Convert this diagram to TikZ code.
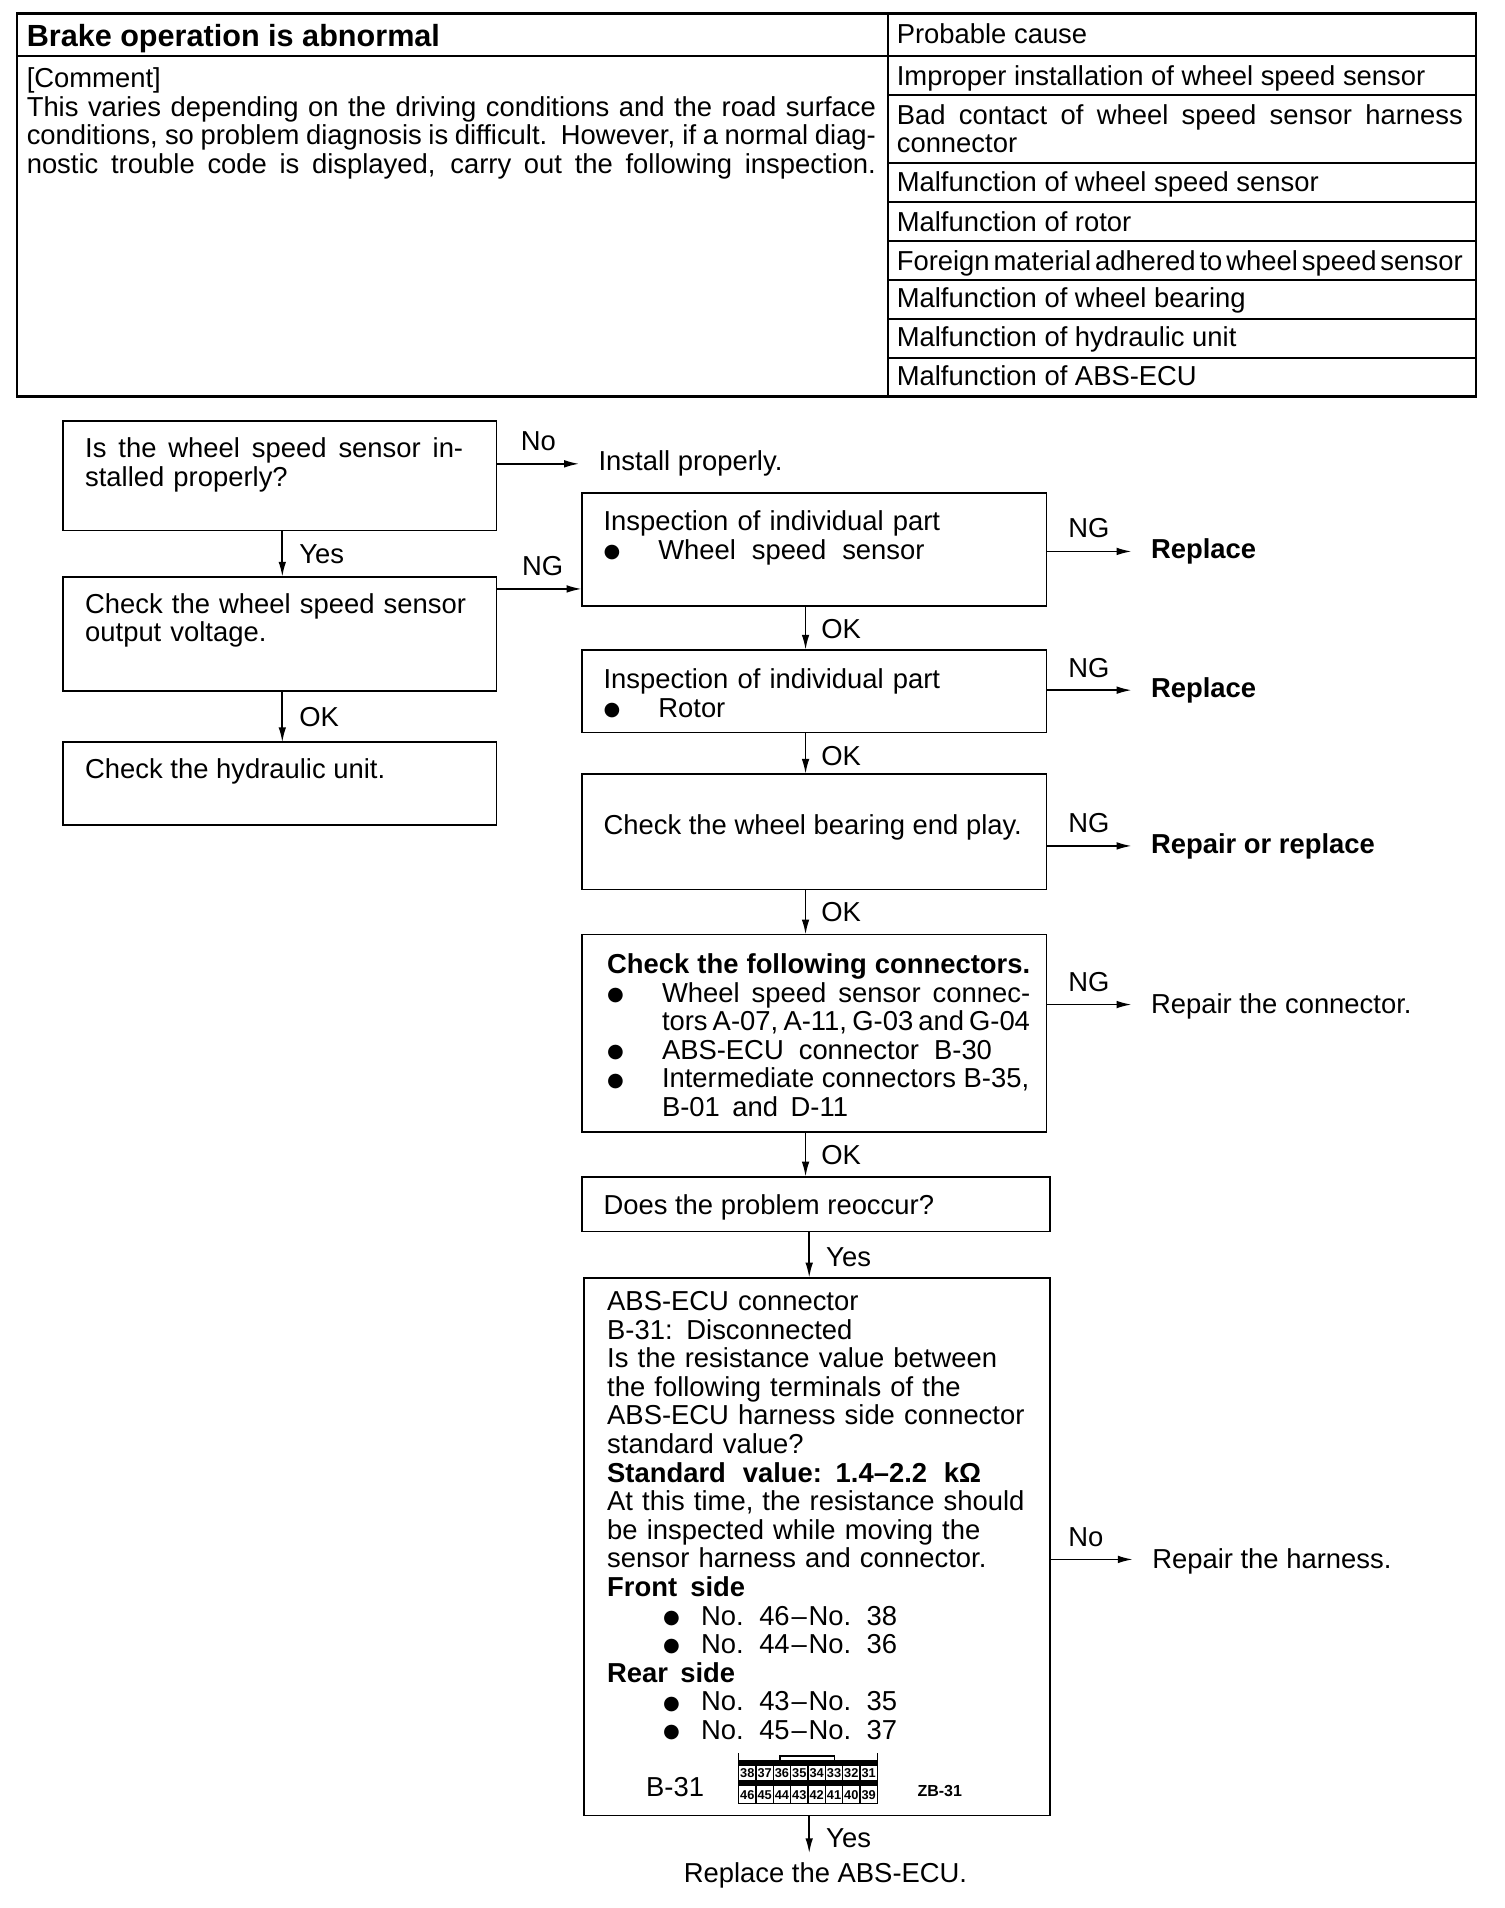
\documentclass[tikz,border=0pt]{standalone}
\usepackage{fontspec}
\setmainfont{Liberation Sans}
\newfontfamily\symf{DejaVu Sans}
\usetikzlibrary{arrows.meta}
\newcommand\bu{\raisebox{0.9pt}{\symf\fontsize{9.6}{9.6}\selectfont ●}}
\newcommand\J[2]{\makebox[#1pt][s]{\spaceskip=0.14em plus 1em\relax #2}}
\newcommand\NN[2]{\hspace*{28pt}\makebox[19pt][l]{\bu}No.\kern7.7pt #1\kern.9pt–\kern.9pt No.\kern7.7pt #2}
\newcommand\bx[5]{\node[boxst,minimum width={(#4-#2)*0.6084pt},minimum height={(#5-#3)*0.6084pt}] (#1) at ({(#2+#4)/2},{(#3+#5)/2}) {};}
\newcommand\T[4]{\node[txt] (#1) at (#2,#3) {#4};}
\newcommand\TG[4]{\node[txt,inner xsep=9.7pt] (#1) at (#2-16,#3) {#4};}
\newcommand\B[5]{\node[txt,text width=#4pt,align=left] (#1) at (#2,#3) {#5};}
\tikzset{
  boxst/.style={draw=black,line width=0.9pt,inner sep=0pt,outer sep=0pt},
  txt/.style={anchor=base west,inner sep=0pt,outer sep=0pt,font=\fontsize{13.7}{14.3}\selectfont,text=black},
  rule/.style={line width=0.85pt},
  arr/.style={line width=0.85pt,-{Latex[length=7.5pt,width=3.8pt]}},
}
\begin{document}
\begin{tikzpicture}[x=0.6084pt,y=-0.6084pt]
\useasboundingbox (0,0) rectangle (1236,1568);
\fill[white] (0,0) rectangle (1236,1568);
% header table
\node[draw=black,line width=1.3pt,inner sep=0pt,outer sep=0pt,minimum width={1199*0.6084pt},minimum height={315*0.6084pt}] (tbl) at (613.5,168.5) {};
\draw[rule] (730,11) -- (730,326);
\draw[rule] (14,46) -- (1213,46);
\foreach \yy in {78,134,166,198,230,262,294} \draw[rule] (730,\yy) -- (1213,\yy);
\T{title}{22}{38}{\fontsize{15.3}{16}\selectfont\bfseries Brake operation is abnormal}
\B{comment}{22}{72}{430}{[Comment]\\
\J{424.6}{This varies depending on the driving conditions and the road surface}\\
\J{424.6}{conditions, so problem diagnosis is difficult. However, if a normal diag-}\\
\J{424.6}{nostic trouble code is displayed, carry out the following inspection.}}
\T{cause}{737}{36}{Probable cause}
\T{c1}{737}{70}{Improper installation of wheel speed sensor}
\B{c2}{737}{102}{290}{\J{283}{Bad contact of wheel speed sensor harness}\\connector}
\T{c3}{737}{157}{Malfunction of wheel speed sensor}
\T{c4}{737}{190}{Malfunction of rotor}
\T{c5}{737}{222}{\J{283}{Foreign material adhered to wheel speed sensor}}
\T{c6}{737}{253}{Malfunction of wheel bearing}
\T{c7}{737}{285}{Malfunction of hydraulic unit}
\T{c8}{737}{317}{Malfunction of ABS-ECU}
% boxes
\bx{a1}{52}{346}{408}{436}
\bx{a2}{52}{474}{408}{568}
\bx{a3}{52}{610}{408}{678}
\bx{b1}{478}{405}{860}{498}
\bx{b2}{478}{534}{860}{602}
\bx{b3}{478}{636}{860}{731}
\bx{b4}{478}{768}{860}{930}
\bx{b5}{478}{967}{863}{1012}
\bx{b6}{480}{1050}{863}{1492}
% box texts
\B{ta1}{70}{376}{200}{\J{189}{Is the wheel speed sensor in-}\\stalled properly?}
\B{ta2}{70}{504}{200}{Check the wheel speed sensor\\output voltage.}
\T{ta3}{70}{640}{Check the hydraulic unit.}
\B{tb1}{496}{436}{220}{Inspection of individual part\\\J{160.5}{\makebox[27.4pt][l]{\bu}Wheel speed sensor}}
\B{tb2}{496}{566}{220}{Inspection of individual part\\\makebox[27.4pt][l]{\bu}Rotor}
\T{tb3}{496}{686}{Check the wheel bearing end play.}
\B{tb4}{499}{800}{225}{\textbf{\J{211.5}{Check the following connectors.}}\\
\J{211.5}{\makebox[27.4pt][l]{\bu}Wheel speed sensor connec-}\\
\hspace*{27.4pt}\J{184}{tors A-07, A-11, G-03 and G-04}\\
\makebox[27.4pt][l]{\bu}\J{165}{ABS-ECU connector B-30}\\
\J{211}{\makebox[27.4pt][l]{\bu}Intermediate connectors B-35,}\\
\hspace*{27.4pt}\J{93}{B-01 and D-11}}
\T{tb5}{496}{998}{Does the problem reoccur?}
\B{tb6}{499}{1077}{225}{ABS-ECU connector\\
B-31: Disconnected\\
Is the resistance value between\\
the following terminals of the\\
ABS-ECU harness side connector\\
standard value?\\
\textbf{\J{187}{Standard value: 1.4–2.2 kΩ}}\\
At this time, the resistance should\\
be inspected while moving the\\
sensor harness and connector.\\
\textbf{\J{69}{Front side}}\\
\NN{46}{38}\\
\NN{44}{36}\\
\textbf{\J{64}{Rear side}}\\
\NN{43}{35}\\
\NN{45}{37}}
\T{b31}{531}{1476}{B-31}
\T{zb}{754}{1476}{\fontsize{8}{8}\selectfont\bfseries ZB-31}
% connector figure
\fill[black] (607,1446) rectangle (721,1451);
\fill[black] (607,1463) rectangle (721,1468);
\draw[line width=0.7pt] (607,1441) -- (607,1482) -- (721,1482) -- (721,1441);
\draw[line width=0.7pt] (641,1446) -- (641,1443) -- (686,1443) -- (686,1446);
\foreach \i [evaluate=\i as \xa using {607+14.25*\i},evaluate=\i as \xb using {607+14.25*(\i+0.5)}, count=\c from 0, evaluate=\c as \up using {int(38-\c)}, evaluate=\c as \lo using {int(46-\c)}] in {0,...,7}{
  \draw[line width=0.7pt] (\xa,1451) -- (\xa,1482);
  \node[inner sep=0pt,font=\fontsize{6.4}{7}\selectfont\bfseries] (up\c) at (\xb,1457.5) {\up};
  \node[inner sep=0pt,font=\fontsize{6.4}{7}\selectfont\bfseries] (lo\c) at (\xb,1475) {\lo};
}
% side labels and targets
\TG{inst}{492}{387}{Install properly.}
\TG{r1}{946}{459}{\textbf{Replace}}
\TG{r2}{946}{573}{\textbf{Replace}}
\TG{r3}{946}{701}{\textbf{Repair or replace}}
\TG{r4}{946}{833}{Repair the connector.}
\TG{r5}{947}{1289}{Repair the harness.}
\T{r6}{562}{1547}{Replace the ABS-ECU.}
\T{l1}{428}{370}{No}
\T{l2}{246}{463}{Yes}
\T{l3}{429}{473}{NG}
\T{l4}{246}{597}{OK}
\T{l5}{878}{442}{NG}
\T{l6}{675}{525}{OK}
\T{l7}{878}{557}{NG}
\T{l8}{675}{629}{OK}
\T{l9}{878}{684}{NG}
\T{l10}{675}{757}{OK}
\T{l11}{878}{815}{NG}
\T{l12}{675}{957}{OK}
\T{l13}{679}{1041}{Yes}
\T{l14}{878}{1271}{No}
\T{l15}{679}{1518}{Yes}
% connectors
\coordinate (ib1) at (478,484);
\coordinate (pa) at (232,0);
\coordinate (pb) at (662,0);
\coordinate (pd) at (665,0);
\coordinate (end) at (665,1523);
\draw[arr] (a1.east |- inst.west) -- (inst.west);
\draw[arr] (a1.south -| pa) -- (a2.north -| pa);
\draw[arr] (a2.south -| pa) -- (a3.north -| pa);
\draw[arr] (a2.east |- ib1) -- (ib1);
\draw[arr] (b1.east |- r1.west) -- (r1.west);
\draw[arr] (b2.east |- r2.west) -- (r2.west);
\draw[arr] (b3.east |- r3.west) -- (r3.west);
\draw[arr] ([yshift=1pt]b4.east |- r4.west) -- ([yshift=1pt]r4.west);
\draw[arr] ([yshift=1pt]b6.east |- r5.west) -- ([yshift=1pt]r5.west);
\draw[arr] (b1.south -| pb) -- (b2.north -| pb);
\draw[arr] (b2.south -| pb) -- (b3.north -| pb);
\draw[arr] (b3.south -| pb) -- (b4.north -| pb);
\draw[arr] (b4.south -| pb) -- (b5.north -| pb);
\draw[arr] (b5.south -| pd) -- (b6.north -| pd);
\draw[arr] (b6.south -| pd) -- (end);
\end{tikzpicture}
\end{document}
